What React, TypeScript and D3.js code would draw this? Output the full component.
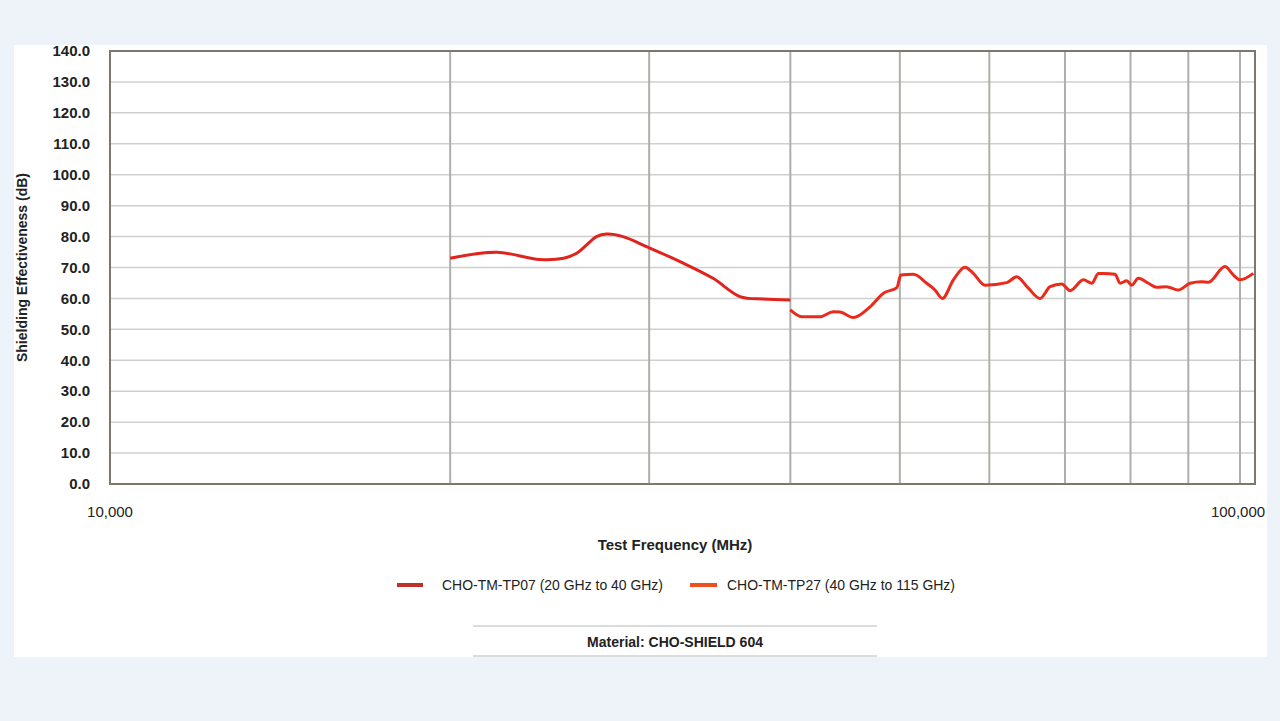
import * as d3 from "d3";

// series 1: CHO-TM-TP07 (20 GHz to 40 GHz)
const freqTP07 = [20000, 22000, 24000, 25200, 25880, 26410, 26950, 27510, 28440, 29870, 31950, 34170, 36100, 37840, 40000];
const seTP07 = [73.0, 74.9, 72.6, 73.0, 74.6, 77.3, 80.0, 80.8, 80.0, 76.7, 71.9, 66.5, 60.6, 59.8, 59.5];

// series 2: CHO-TM-TP27 (40 GHz to 115 GHz)
const freqTP27 = [
  40000, 40940, 42500, 43650, 44260, 45480, 47060, 48360, 49700, 50100, 51400, 52820, 53720, 54530,
  55760, 57100, 58070, 59470, 62170, 63450, 64960, 66530, 67910, 69540, 70730, 72690, 73930, 74940,
  75700, 77530, 78320, 79390, 80210, 81280, 82980, 84380, 86100, 88170, 90310, 92490, 93760, 96980,
  98630, 100000, 102750,
];
const seTP27 = [
  56.3, 54.1, 54.1, 55.7, 55.6, 53.8, 57.3, 61.7, 63.5, 67.6, 67.8, 64.9, 62.7, 60.0,
  66.0, 70.1, 68.1, 64.3, 65.1, 67.0, 63.3, 60.0, 63.8, 64.7, 62.5, 66.0, 64.9, 68.1,
  68.1, 67.8, 64.9, 65.7, 64.3, 66.5, 64.9, 63.6, 63.8, 62.7, 64.9, 65.4, 65.2, 70.3,
  67.6, 66.0, 68.1,
];

const yTicks = d3.range(0, 141, 10);
const xGrid = [20000, 30000, 40000, 50000, 60000, 70000, 80000, 90000, 100000];
const xLabels = [10000, 100000];

const legendItems = [
  { label: "CHO-TM-TP07 (20 GHz to 40 GHz)", color: "#c0302a" },
  { label: "CHO-TM-TP27 (40 GHz to 115 GHz)", color: "#f0501e" },
];

const W = 1280;
const H = 721;
const plot = { left: 110, right: 1255, top: 51, bottom: 484 };
const font = "'Liberation Sans', Arial, sans-serif";

export default function App() {
  const x = d3.scaleLog().domain([10000, 103100]).range([plot.left, plot.right]);
  const y = d3.scaleLinear().domain([0, 140]).range([plot.bottom, plot.top]);

  const smooth = d3
    .line<number>()
    .x((_, i) => x(freqTP07[i]))
    .y((d) => y(d))
    .curve(d3.curveCatmullRom);
  const jagged = d3
    .line<number>()
    .x((_, i) => x(freqTP27[i]))
    .y((d) => y(d))
    .curve(d3.curveMonotoneX);

  // legend positions: swatch start, swatch length, text start, text width
  const legendPos = [
    { sx: 397, sw: 26, tx: 442, tw: 221 },
    { sx: 690, sw: 27, tx: 727, tw: 228 },
  ];

  return (
    <svg
      width={W}
      height={H}
      style={{ position: "absolute", left: 0, top: 0, display: "block" }}
      fontFamily={font}
    >
      <rect width={W} height={H} fill="#eef3fa" />
      <rect x={14} y={45} width={1253} height={612} fill="#ffffff" />

      {/* horizontal grid */}
      {yTicks.slice(1).map((t) => (
        <line key={t} x1={plot.left} x2={plot.right} y1={y(t)} y2={y(t)} stroke="#cfcfcf" strokeWidth={1.5} />
      ))}
      {/* vertical grid */}
      {xGrid.map((f) => (
        <line key={f} x1={x(f)} x2={x(f)} y1={plot.top} y2={plot.bottom} stroke="#b0aeaa" strokeWidth={2} />
      ))}
      <rect
        x={plot.left}
        y={plot.top}
        width={plot.right - plot.left}
        height={plot.bottom - plot.top}
        fill="none"
        stroke="#7d776c"
        strokeWidth={2}
      />

      {/* y tick labels */}
      {yTicks.map((t) => (
        <text key={t} x={90} y={y(t)} dy="0.35em" textAnchor="end" fontSize={15} fontWeight="bold" fill="#222">
          {d3.format(".1f")(t)}
        </text>
      ))}
      {xLabels.map((f, i) => (
        <text key={f} x={x(f) - (i ? 2 : 0)} y={512} dy="0.35em" textAnchor="middle" fontSize={15} fill="#222">
          {d3.format(",")(f)}
        </text>
      ))}

      <text
        transform={`translate(22,${(plot.top + plot.bottom) / 2}) rotate(-90)`}
        textAnchor="middle"
        dy="0.35em"
        fontSize={14}
        fontWeight="bold"
        fill="#222"
      >
        Shielding Effectiveness (dB)
      </text>
      <text x={675} y={545} dy="0.35em" textAnchor="middle" fontSize={15} fontWeight="bold" fill="#222">
        Test Frequency (MHz)
      </text>

      {/* curves */}
      <path d={smooth(seTP07) ?? ""} fill="none" stroke="#e0231c" strokeWidth={3} strokeLinejoin="round" />
      <path d={jagged(seTP27) ?? ""} fill="none" stroke="#ea2a1a" strokeWidth={3} strokeLinejoin="round" />

      {/* legend */}
      {legendItems.map((it, i) => {
        const p = legendPos[i];
        return (
          <g key={it.label}>
            <line x1={p.sx} x2={p.sx + p.sw} y1={585} y2={585} stroke={it.color} strokeWidth={4} />
            <text
              x={p.tx}
              y={585}
              dy="0.35em"
              fontSize={15}
              fill="#222"
              textLength={p.tw}
              lengthAdjust="spacingAndGlyphs"
            >
              {it.label}
            </text>
          </g>
        );
      })}

      <line x1={473} x2={877} y1={626} y2={626} stroke="#cfcfcf" strokeWidth={1.5} />
      <line x1={473} x2={877} y1={656} y2={656} stroke="#cfcfcf" strokeWidth={1.5} />
      <text
        x={587}
        y={642}
        dy="0.35em"
        fontSize={15}
        fontWeight="bold"
        fill="#222"
        textLength={176}
        lengthAdjust="spacingAndGlyphs"
      >
        Material: CHO-SHIELD 604
      </text>
    </svg>
  );
}
